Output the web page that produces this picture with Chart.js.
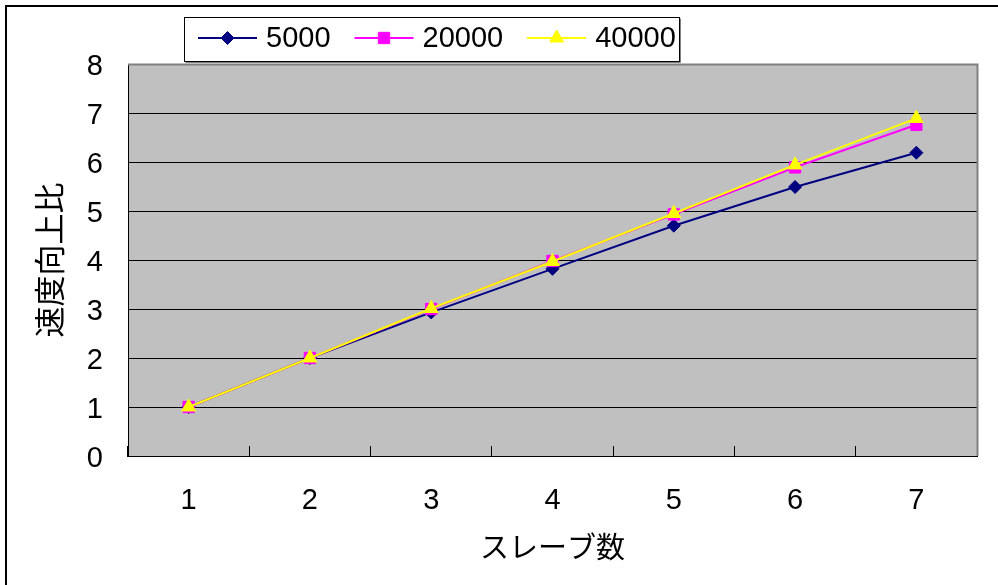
<!DOCTYPE html>
<html>
<head>
<meta charset="utf-8">
<script src="https://cdn.jsdelivr.net/npm/chart.js@4/dist/chart.umd.min.js"></script>
<style>
  html, body { margin: 0; padding: 0; background: #fff; }
  #wrap { width: 998px; height: 585px; }
</style>
</head>
<body>
<div id="wrap"><canvas id="c" width="998" height="585"></canvas></div>
<script>
// Speed-up ratio by number of slaves, one series per problem size
const slaveCounts = ['1', '2', '3', '4', '5', '6', '7'];
const seriesNames = ['5000', '20000', '40000'];
const speedup5000  = [1, 2, 2.93, 3.82, 4.70, 5.49, 6.19];
const speedup20000 = [1, 2, 3.00, 3.98, 4.93, 5.89, 6.76];
const speedup40000 = [1, 2, 3.01, 3.97, 4.95, 5.94, 6.89];
const yMin = 0, yMax = 8, yStep = 1;

const digitFont = { family: '"Liberation Sans", Arial, sans-serif', size: 29 };
const cjkFont = '"Noto Sans CJK JP", sans-serif';

// Frame, grey plot background and the series key box
const decor = {
  id: 'decor',
  beforeDraw(chart) {
    const { ctx, chartArea: a, width, height } = chart;
    ctx.save();
    ctx.fillStyle = '#ffffff';
    ctx.fillRect(0, 0, width, height);
    ctx.strokeStyle = '#000';
    ctx.lineWidth = 2;
    ctx.beginPath();
    ctx.moveTo(6, height + 2);
    ctx.lineTo(6, 6);
    ctx.lineTo(width + 2, 6);
    ctx.stroke();
    ctx.fillStyle = '#c0c0c0';
    ctx.fillRect(a.left, a.top, a.right - a.left, a.bottom - a.top);
    ctx.restore();
  },
  beforeDatasetsDraw(chart) {
    const { ctx, chartArea: a } = chart;
    ctx.save();
    ctx.strokeStyle = '#808080';
    ctx.lineWidth = 2;
    ctx.beginPath();
    ctx.moveTo(a.left, a.top + 0.5);
    ctx.lineTo(a.right + 0.5, a.top + 0.5);
    ctx.lineTo(a.right + 0.5, a.bottom);
    ctx.stroke();
    ctx.restore();
  },
  afterDraw(chart) {
    const { ctx } = chart;
    const box = { x: 184.5, y: 17.5, w: 495, h: 44 };
    ctx.save();
    ctx.fillStyle = '#ffffff';
    ctx.fillRect(box.x, box.y, box.w, box.h);
    ctx.strokeStyle = '#000';
    ctx.lineWidth = 1;
    ctx.strokeRect(box.x, box.y, box.w, box.h);
    ctx.strokeStyle = '#808080';
    ctx.beginPath();
    ctx.moveTo(box.x + box.w + 1, box.y + 1);
    ctx.lineTo(box.x + box.w + 1, box.y + box.h + 1);
    ctx.lineTo(box.x + 1, box.y + box.h + 1);
    ctx.stroke();

    ctx.font = digitFont.size + 'px ' + digitFont.family;
    ctx.textBaseline = 'middle';
    ctx.textAlign = 'left';
    const cy = 38;
    let x = 198;
    chart.data.datasets.forEach(ds => {
      ctx.strokeStyle = ds.borderColor;
      ctx.lineWidth = ds.borderWidth;
      ctx.beginPath();
      ctx.moveTo(x, cy);
      ctx.lineTo(x + 59, cy);
      ctx.stroke();
      ctx.fillStyle = ds.pointBackgroundColor;
      ctx.strokeStyle = ds.pointBorderColor;
      ctx.lineWidth = ds.pointBorderWidth;
      Chart.helpers.drawPoint(ctx, {
        pointStyle: ds.pointStyle, radius: ds.pointRadius, rotation: 0,
        borderWidth: ds.pointBorderWidth
      }, x + 29.5, cy);
      ctx.fillStyle = '#000';
      ctx.fillText(ds.label, x + 68, cy + 1);
      x += 68 + ctx.measureText(ds.label).width + 24;
    });
    ctx.restore();
  }
};

function series(label, data, color, style, radius, order) {
  return {
    label, data, order,
    borderColor: color, backgroundColor: color,
    pointBackgroundColor: color, pointBorderColor: color,
    borderWidth: 2, pointBorderWidth: 1,
    pointStyle: style, pointRadius: radius, pointHoverRadius: radius,
    tension: 0, fill: false
  };
}

new Chart(document.getElementById('c'), {
  type: 'line',
  data: {
    labels: slaveCounts,
    datasets: [
      series(seriesNames[0], speedup5000, '#000080', 'rectRot', 6.5, 2),
      series(seriesNames[1], speedup20000, '#ff00ff', 'rect', 8, 1),
      series(seriesNames[2], speedup40000, '#ffff00', 'triangle', 8, 0)
    ]
  },
  options: {
    responsive: false,
    devicePixelRatio: 1,
    animation: false,
    layout: { padding: { top: 64, right: 21, left: 0, bottom: 0 } },
    plugins: { legend: { display: false }, tooltip: { enabled: false } },
    scales: {
      x: {
        type: 'category',
        offset: true,
        grid: { offset: true, drawOnChartArea: false, drawTicks: true, tickLength: -10, color: '#000', lineWidth: 1 },
        border: { color: '#000', width: 1 },
        ticks: { color: '#000', font: digitFont, padding: 38, maxRotation: 0 },
        title: { display: true, text: 'スレーブ数', color: '#000',
                 font: { family: cjkFont, size: 29, lineHeight: 1 }, padding: { top: 0, bottom: 24 } },
        afterFit(s) { s.height = 129; }
      },
      y: {
        min: yMin, max: yMax,
        grid: { color: '#000', lineWidth: 1, drawTicks: false },
        border: { color: '#000', width: 1 },
        ticks: { stepSize: yStep, color: '#000', font: digitFont, padding: 25, labelOffset: 3 },
        title: { display: true, text: '速度向上比', color: '#000',
                 font: { family: cjkFont, size: 31, lineHeight: 1 }, padding: { top: 34, bottom: 0 } },
        afterFit(s) { s.width = 128; }
      }
    }
  },
  plugins: [decor]
});
</script>
</body>
</html>
